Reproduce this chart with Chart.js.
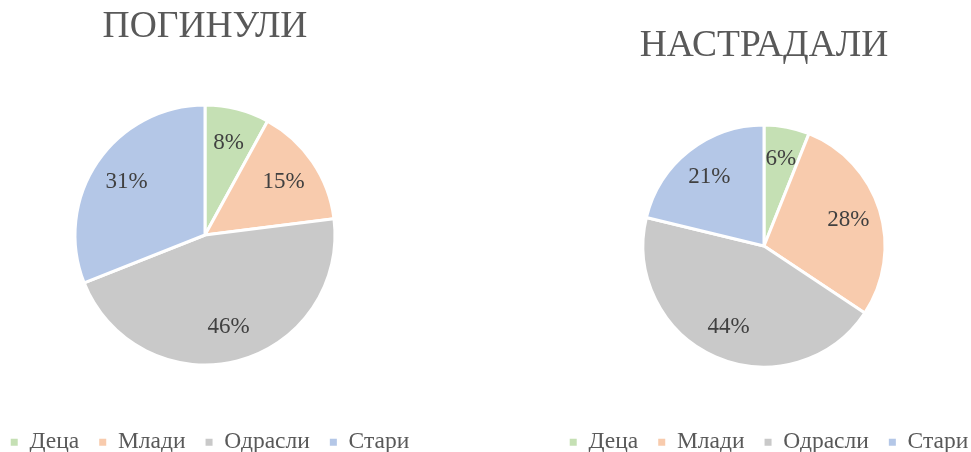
<!DOCTYPE html>
<html lang="sr">
<head>
<meta charset="utf-8">
<title>Погинули и настрадали</title>
<script src="https://cdn.jsdelivr.net/npm/chart.js@4.4.1/dist/chart.umd.min.js"></script>
<style>
    html, body { margin: 0; padding: 0; background: #fff; overflow: hidden; }
    .grafik { position: absolute; top: 0; width: 440px; height: 464px; }
    #levo { left: -15px; }
    #desno { left: 544px; }
</style>
</head>
<body>

<div class="grafik" id="levo"><canvas id="poginuli"></canvas></div>
<div class="grafik" id="desno"><canvas id="nastradali"></canvas></div>

<script>
const kategorije = ["Деца", "Млади", "Одрасли", "Стари"];

const poginuli = [8, 15, 46, 31];

const nastradali = [6, 28, 44, 21];

const boje = ["#c5e0b4", "#f8cbad", "#c9c9c9", "#b4c7e7"];

const slova = "'Liberation Serif', 'Times New Roman', serif";

Chart.defaults.font.family = slova;
Chart.defaults.color = "#595959";

// procenti upisani u isečke
const procenti = {
    id: "procenti",
    afterLayout(chart) {
        // legenda je u originalu malo desno od centra pite
        chart.legend.left += 5;
        chart.legend.right += 5;
    },
    afterDatasetsDraw(chart) {
        const ctx = chart.ctx;
        const meta = chart.getDatasetMeta(0);
        const vrednosti = chart.data.datasets[0].data;

        ctx.save();
        ctx.font = "23px " + slova;
        ctx.fillStyle = "#404040";
        ctx.textAlign = "center";
        ctx.textBaseline = "middle";

        meta.data.forEach((luk, i) => {
            const p = luk.getProps(["x", "y", "startAngle", "endAngle", "outerRadius"], true);
            const ugao = (p.startAngle + p.endAngle) / 2;
            const r = p.outerRadius * 0.73;
            ctx.fillText(vrednosti[i] + "%", p.x + Math.cos(ugao) * r, p.y + Math.sin(ugao) * r);
        });

        ctx.restore();
    }
};

// kvadratići u legendi bez belog okvira
function oznake(chart) {
    const osnovne = Chart.controllers.pie.overrides.plugins.legend.labels.generateLabels(chart);
    return osnovne.map(o => {
        o.lineWidth = 0;
        o.strokeStyle = o.fillStyle;
        return o;
    });
}

function napravi(id, naslov, podaci, poluprecnik, gore, dole) {

    new Chart(document.getElementById(id), {

        type: "pie",

        data: {
            labels: kategorije,
            datasets: [{
                data: podaci,
                backgroundColor: boje,
                borderColor: "#ffffff",
                borderWidth: 3,
                radius: poluprecnik
            }]
        },

        options: {
            responsive: true,
            maintainAspectRatio: false,
            animation: false,
            layout: { padding: 0 },
            plugins: {
                title: {
                    display: true,
                    text: naslov,
                    color: "#595959",
                    font: { size: 37.5, weight: "normal", family: slova },
                    padding: { top: gore, bottom: dole }
                },
                legend: {
                    position: "bottom",
                    labels: {
                        boxWidth: 7,
                        boxHeight: 7,
                        padding: 20,
                        color: "#595959",
                        font: { size: 23.5, family: slova },
                        generateLabels: oznake
                    }
                },
                tooltip: { enabled: false }
            }
        },

        plugins: [procenti]
    });
}

napravi("poginuli", "ПОГИНУЛИ", poginuli, 130, 5, 9.5);
napravi("nastradali", "НАСТРАДАЛИ", nastradali, 121, 24, 12.5);
</script>
</body>
</html>
